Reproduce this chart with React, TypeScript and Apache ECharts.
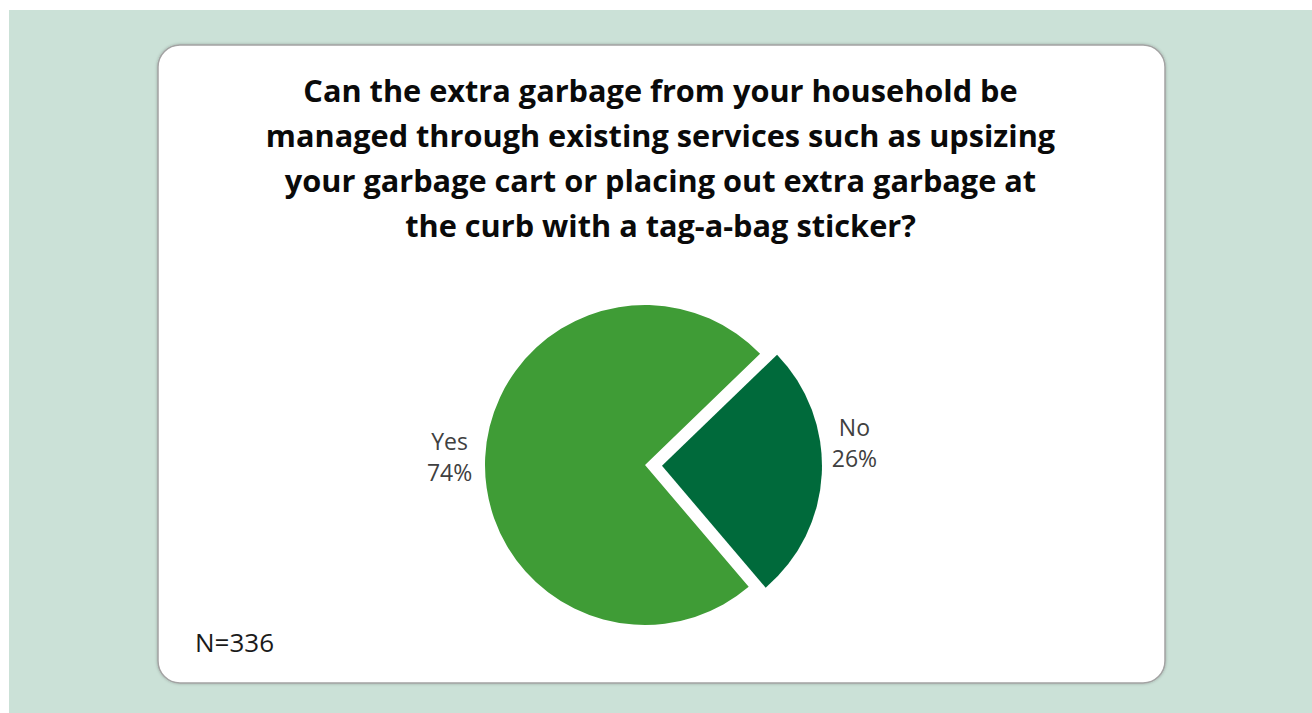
import React, { useEffect, useRef } from "react";
import * as echarts from "echarts";

const titleLines = [
  "Can the extra garbage from your household be",
  "managed through existing services such as upsizing",
  "your garbage cart or placing out extra garbage at",
  "the curb with a tag-a-bag sticker?",
];
const categories = ["Yes", "No"];
const values = [74, 26];
const sampleNote = "N=336";
const sliceColors = ["#3f9c36", "#006a3b"];

export default function App() {
  const ref = useRef<HTMLDivElement>(null);
  useEffect(() => {
    if (!ref.current) return;
    const chart = echarts.init(ref.current, null, { renderer: "svg" });
    const font = "'Open Sans', 'Noto Sans', sans-serif";
    chart.setOption({
      animation: false,
      backgroundColor: "#cbe1d7",
      title: {
        text: titleLines.join("\n"),
        left: "center",
        top: 57,
        padding: 0,
        textStyle: {
          fontFamily: font,
          fontWeight: "bold",
          fontSize: 30.7,
          lineHeight: 45,
          color: "#0a0a0a",
        },
      },
      graphic: [
        {
          type: "rect",
          z: -10,
          shape: { x: 149, y: 35, width: 1007, height: 638, r: 22 },
          style: {
            fill: "#ffffff",
            stroke: "#a3a3a3",
            lineWidth: 1.5,
            shadowBlur: 3,
            shadowColor: "rgba(0,0,0,0.25)",
          },
        },
        {
          type: "text",
          left: 186,
          top: 619,
          style: {
            text: sampleNote,
            font: `26px ${font}`,
            fill: "#1a1a1a",
          },
        },
      ],
      series: [
        {
          type: "pie",
          center: [636, 455],
          radius: 160,
          startAngle: 310.4,
          clockwise: true,
          selectedMode: "single",
          selectedOffset: 17,
          avoidLabelOverlap: false,
          label: {
            show: true,
            position: "outside",
            formatter: "{t|{b}}\n{t|{c}%}",
            rich: {
              t: {
                fontFamily: font,
                fontSize: 23,
                lineHeight: 31,
                color: "#404040",
                align: "center",
              },
            },
          },
          labelLine: { show: false, length: 8, length2: 0 },
          labelLayout: (p: any) => (p.dataIndex === 1 ? { dy: -32, dx: -3 } : {}),
          emphasis: { disabled: true },
          data: categories.map((c, i) => ({
            name: c,
            value: values[i],
            selected: i === 1,
            itemStyle: { color: sliceColors[i] },
          })),
        },
      ],
    });
    return () => chart.dispose();
  }, []);
  return (
    <div
      ref={ref}
      style={{ position: "absolute", left: 9, top: 10, width: 1303, height: 703 }}
    />
  );
}
